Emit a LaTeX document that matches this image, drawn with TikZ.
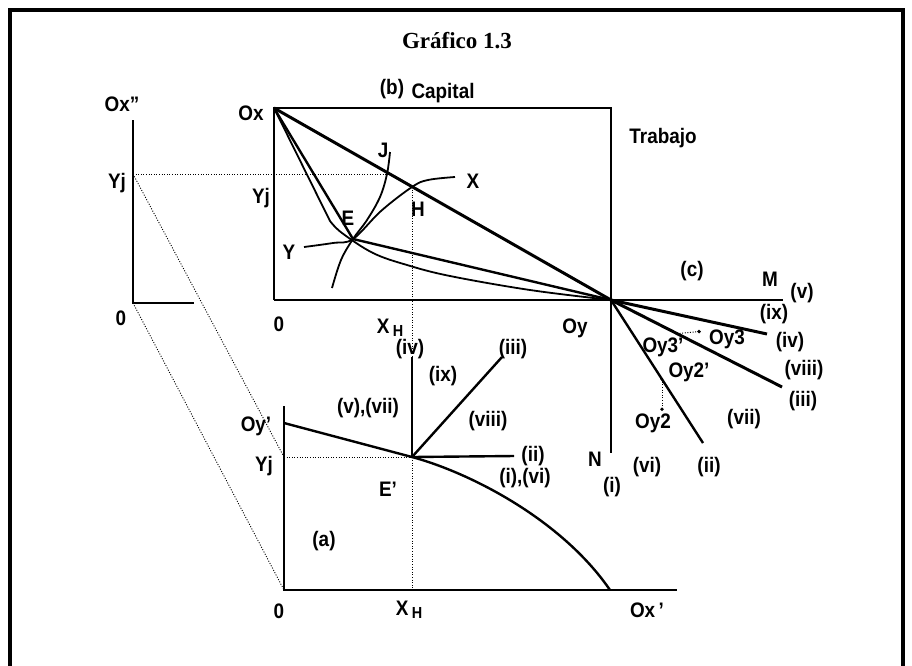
\documentclass[tikz,border=0pt]{standalone}
\usepackage{fontspec}
\setmainfont{Liberation Sans}
\newfontfamily\lblfont{Liberation Sans}[FakeStretch=0.9, Ligatures=TeX]
\newfontfamily\titlefont{Liberation Serif}
\usetikzlibrary{calc}
\begin{document}
\begin{tikzpicture}[x=1pt,y=-1pt,
  lbl/.style={font=\lblfont\fontsize{21}{21}\selectfont\bfseries, inner sep=0pt, anchor=center},
  axis/.style={line width=2.2pt},
  heavy/.style={line width=3pt},
  medium/.style={line width=2.4pt},
  curv/.style={line width=1.8pt},
  dotline/.style={line width=0.9pt, dash pattern=on 1pt off 1.6pt},
  dotmark/.style={circle, fill, inner sep=0pt, minimum size=3.8pt}]
\useasboundingbox (0,0) rectangle (912,665);
% outer frame
\draw[line width=3.5pt] (10,700) -- (10,10) -- (903,10) -- (903,700);
\node[font=\titlefont\fontsize{23}{23}\selectfont\bfseries, inner sep=0pt] (title) at (457,41) {Gráfico 1.3};

% ---------- panel (b) box ----------
\coordinate (Ox) at (274,108);
\coordinate (TR) at (611,108);
\coordinate (Oy) at (611,300);
\coordinate (O) at (274,300);
\coordinate (M) at (783,300);
\coordinate (N) at (611,453);
\coordinate (E) at (353,239);
\coordinate (H) at (412,187);
\coordinate (Kink) at (330,221);
\draw[axis] (O) -- (Ox) -- (TR) -- (Oy);
\draw[axis] (O) -- (Oy);
\draw[medium] (Oy) -- (M);
\draw[medium] (TR) -- (N);
% diagonal and contract curves
\draw[heavy] (Ox) -- (Oy);
\draw[medium] (Ox) -- (E) -- (Oy);
\draw[curv] (Ox) -- (Kink) plot[smooth, tension=0.6] coordinates {(330,221) (342,233) (373,253) (407,265) (450,276) (530,290) (611,300)};
% isoquants
\draw[curv] plot[smooth, tension=0.6] coordinates {(390,152) (387,174) (380,197) (367,220) (353,239) (341,260) (332,288)};
\draw[curv] plot[smooth, tension=0.6] coordinates {(304,247) (333,243) (353,239) (381,211) (412,187) (428,180) (455,177)};

% ---------- panel (c) rays ----------
\coordinate (Riv) at (767,334);
\coordinate (Riii) at (782,387);
\coordinate (Rii) at (703,443);
\draw[heavy] (Oy) -- (Riv);
\draw[heavy] (Oy) -- (Riii);
\draw[medium] (Oy) -- (Rii);
\coordinate (Oy3p) at ($(Oy)!0.386!(Riii)$);
\coordinate (Oy2p) at ($(Oy)!0.554!(Rii)$);
\coordinate (Oy3) at ($(Oy3p)+(22,-2)$);
\coordinate (Oy2) at ($(Oy2p)+(0,30)$);
\draw[dotline] (Oy3p) -- (Oy3);
\draw[dotline] (Oy2p) -- (Oy2);
\node[dotmark] (d3) at (Oy3) {};
\node[dotmark] (d2) at (Oy2) {};
\node[dotmark, minimum size=3pt] (d3p) at (Oy3p) {};
\node[dotmark, minimum size=3pt] (d2p) at (Oy2p) {};

% ---------- left axis ----------
\coordinate (LT) at (133,120);
\coordinate (LYj) at (133,174);
\coordinate (LO) at (133,303);
\coordinate (LR) at (194,303);
\draw[axis] (LT) -- (LO) -- (LR);

% ---------- panel (a) ----------
\coordinate (AT) at (284,406);
\coordinate (AO) at (284,590);
\coordinate (AR) at (677,590);
\coordinate (AOy) at (284,423);
\coordinate (AYj) at (284,457);
\coordinate (Ep) at (412,457);
\coordinate (Aiv) at (412,357);
\coordinate (Aiii) at (502,357);
\coordinate (Aii) at (514,456);
\coordinate (AOx) at (610,590);
\coordinate (AXH) at (412,590);
\draw[axis] (AT) -- (AO) -- (AR);
\draw[medium] (AOy) -- (Ep) .. controls (471,473) and (562,520) .. (AOx);
\draw[medium] (Ep) -- (Aiv);
\draw[medium] (Ep) -- (Aiii);
\draw[medium] (Ep) -- (Aii);

% ---------- dotted guides ----------
\draw[dotline] (LYj) -- (389,174);
\draw[dotline] (LYj) -- (AYj);
\draw[dotline] (LO) -- (AO);
\draw[dotline] (AYj) -- (Ep);
\draw[dotline] (H) -- (AXH);

% ---------- labels ----------
\node[lbl] (lb) at (392,89) {(b)};
\node[lbl] (lcap) at (443,93) {Capital};
\node[lbl] (ltrab) at (663,138) {Trabajo};
\node[lbl] (lOx) at (251,113) {Ox};
\node[lbl] (lJ) at (383,150) {J};
\node[lbl] (lX) at (473,181) {X};
\node[lbl] (lH) at (418,209) {H};
\node[lbl] (lE) at (348,218) {E};
\node[lbl] (lY) at (289,252) {Y};
\node[lbl] (lYj) at (261,198) {Yj};
\node[lbl] (l0b) at (279,324) {0};
\node[lbl] (lXHb) at (390,328) {X\,\raisebox{-3pt}{\fontsize{16}{16}\selectfont H}};
\node[lbl] (lOyb) at (575,328) {Oy};

\node[lbl] (lc) at (692,271) {(c)};
\node[lbl] (lM) at (770,279) {M};
\node[lbl] (lv) at (802,293) {(v)};
\node[lbl] (lix) at (774,314) {(ix)};
\node[lbl] (liv) at (790,342) {(iv)};
\node[lbl] (lviii) at (804,370) {(viii)};
\node[lbl] (liii) at (803,401) {(iii)};
\node[lbl] (lvii) at (744,419) {(vii)};
\node[lbl] (lii) at (709,467) {(ii)};
\node[lbl] (lvi) at (647,467) {(vi)};
\node[lbl] (lN) at (595,459) {N};
\node[lbl] (li) at (612,487) {(i)};
\node[lbl] (lOy3p) at (663,347) {Oy3'};
\node[lbl] (lOy3) at (727,339) {Oy3};
\node[lbl] (lOy2p) at (689,372) {Oy2'};
\node[lbl] (lOy2) at (653,423) {Oy2};

\node[lbl] (lOxpp) at (122,104) {Ox''};
\node[lbl] (lYjL) at (117,183) {Yj};
\node[lbl] (l0L) at (121,318) {0};

\node[lbl] (lOyp) at (256,426) {Oy'};
\node[lbl] (lYjA) at (264,466) {Yj};
\node[lbl] (lEp) at (388,489) {E'};
\node[lbl] (la) at (324,541) {(a)};
\node[lbl] (l0A) at (279,611) {0};
\node[lbl] (lXHA) at (409,610) {X\,\raisebox{-3pt}{\fontsize{16}{16}\selectfont H}};
\node[lbl] (lOxp) at (647,610) {Ox\,'};
\node[lbl] (lAiv) at (410,349) {(iv)};
\node[lbl] (lAiii) at (513,349) {(iii)};
\node[lbl] (lAix) at (443,376) {(ix)};
\node[lbl] (lAvvii) at (368,408) {(v),(vii)};
\node[lbl] (lAviii) at (488,421) {(viii)};
\node[lbl] (lAii) at (533,456) {(ii)};
\node[lbl] (lAivi) at (525,478) {(i),(vi)};
\end{tikzpicture}
\end{document}
